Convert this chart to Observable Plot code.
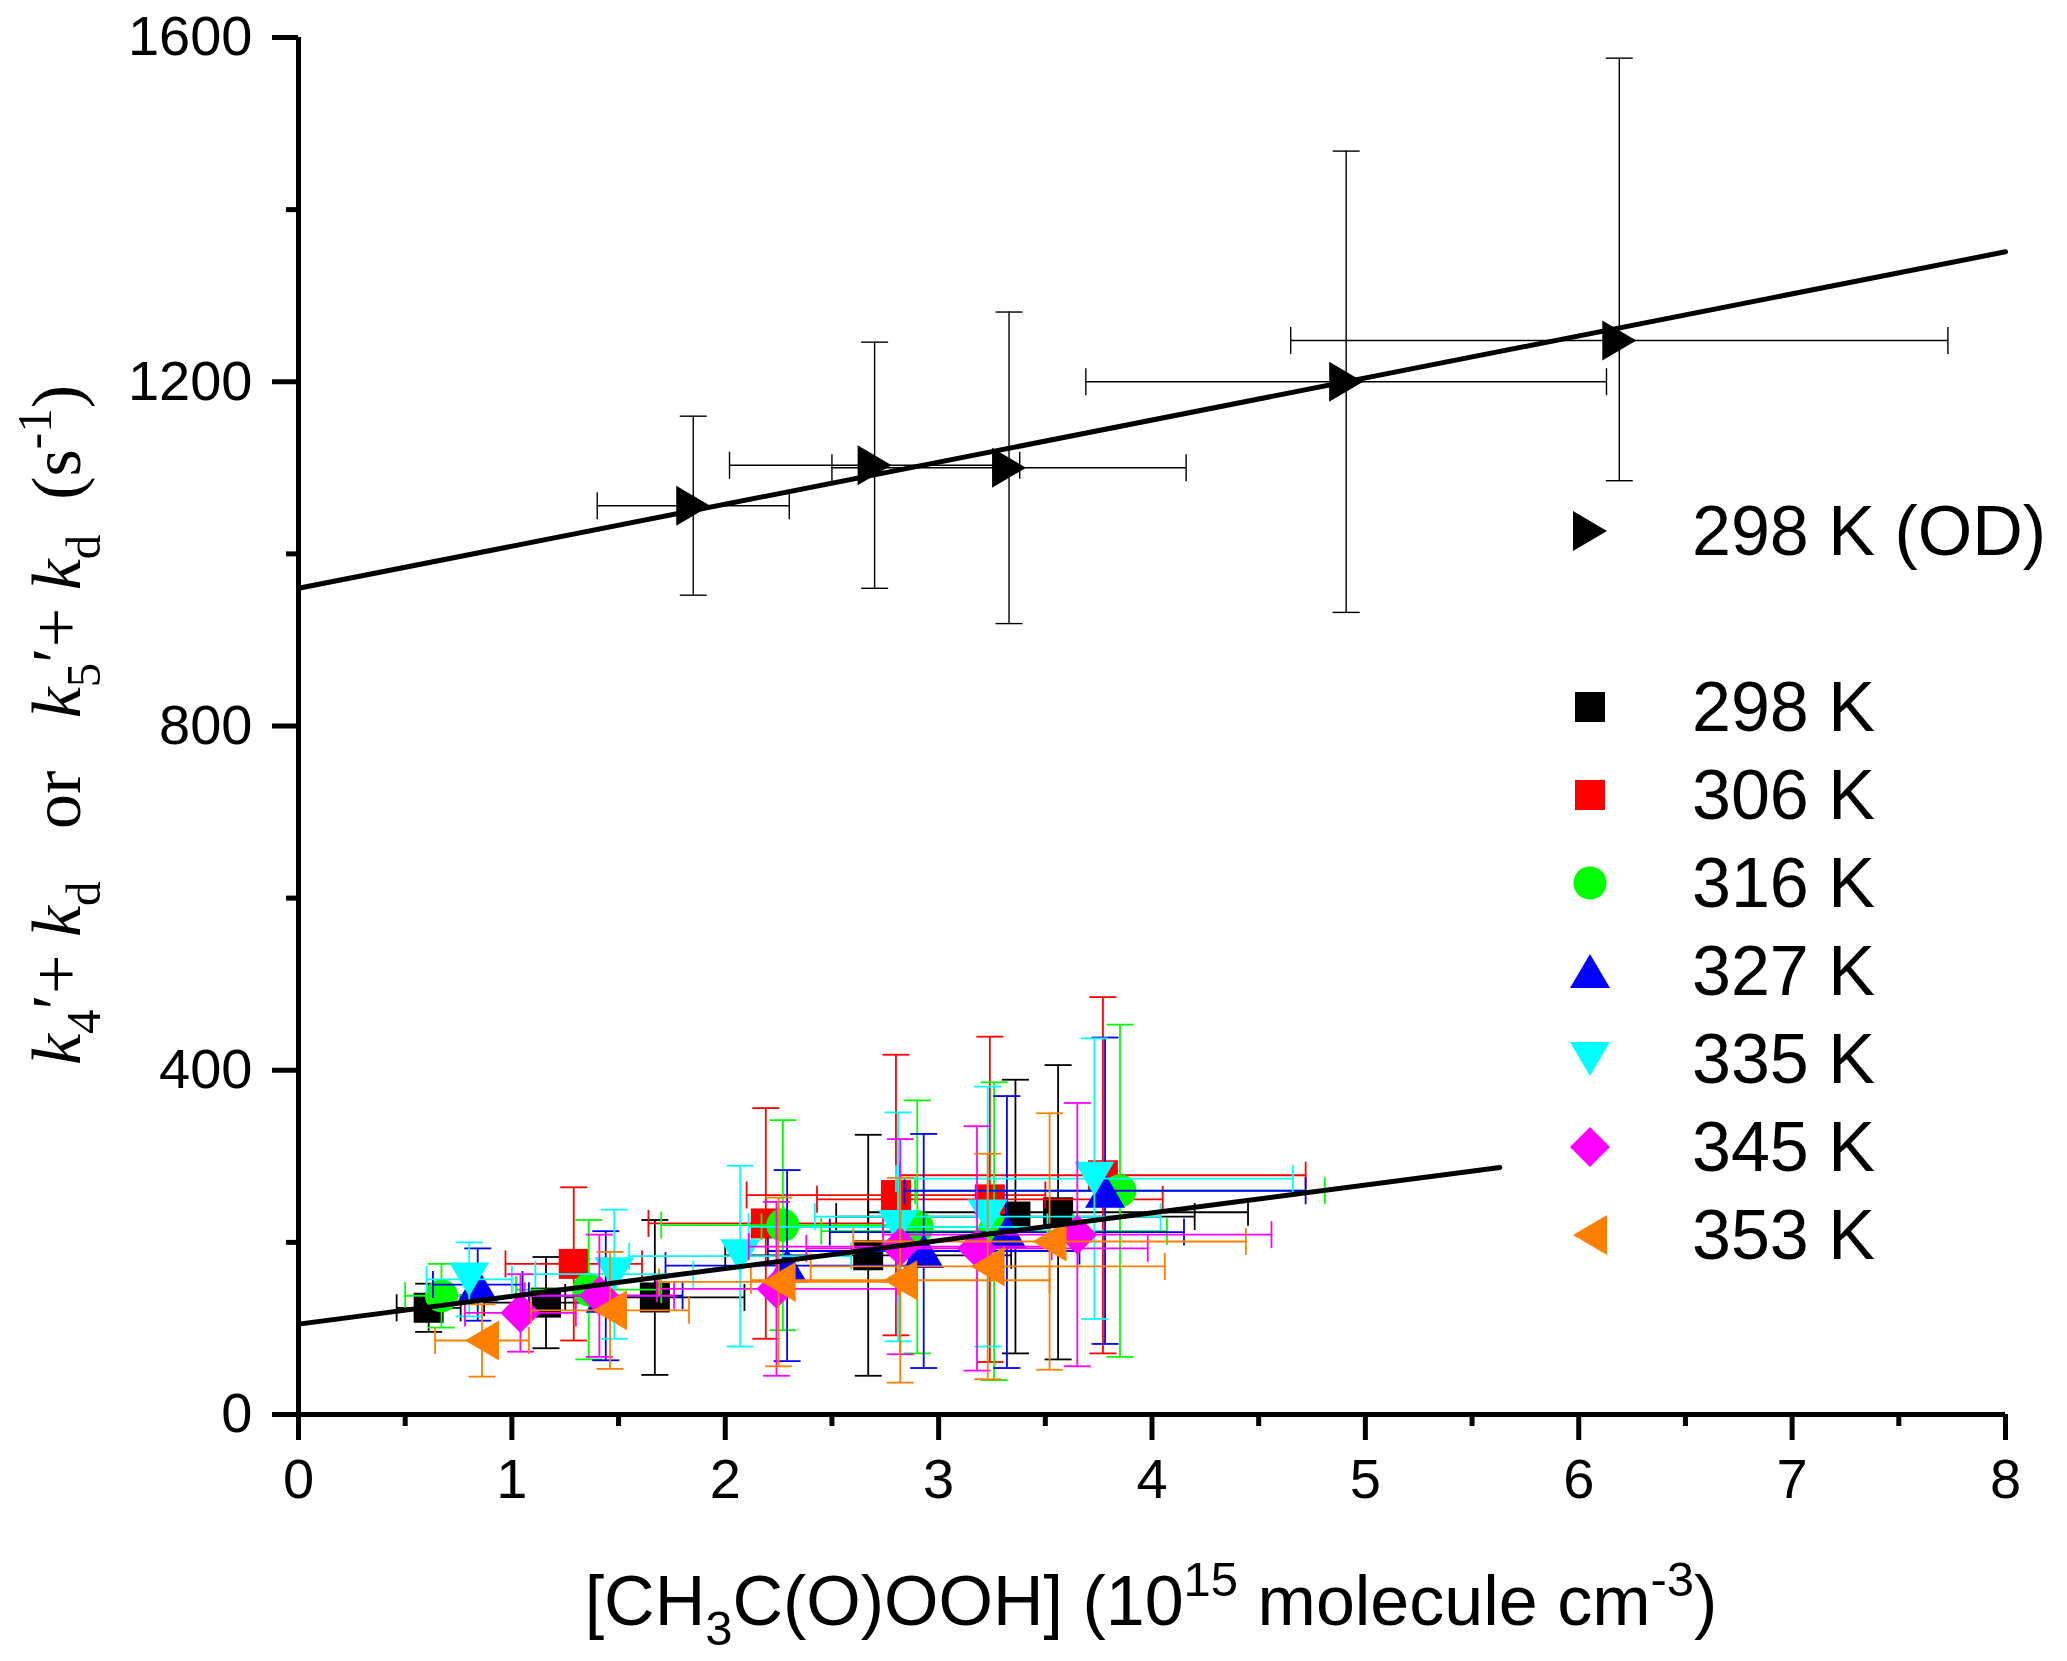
<!DOCTYPE html>
<html>
<head>
<meta charset="utf-8">
<script src="https://cdn.jsdelivr.net/npm/d3@7"></script>
<script src="https://cdn.jsdelivr.net/npm/@observablehq/plot@0.6"></script>
<style>
  body { margin: 0; background: #fff; }
  #chart { position: relative; width: 2067px; height: 1661px; }
  #legend { position: absolute; left: 1555px; top: 487px; font-family: "Liberation Sans", Arial, sans-serif; font-size: 70px; color: #000; }
  #legend .row { display: flex; align-items: center; height: 88px; white-space: pre; }
  #legend svg { width: 70px; height: 70px; overflow: visible; }
  #legend span { margin-left: 67px; }
</style>
</head>
<body>
<div id="chart"><div id="legend"></div></div>
<script>
  // series names / colours (legend order)
  const names = ['298 K (OD)', '298 K', '306 K', '316 K', '327 K', '335 K', '345 K', '353 K']
  const colors = ['#000000', '#000000', '#ff0000', '#00ff00', '#0000ff', '#00ffff', '#ff00ff', '#ff8000']

  // 298 K (OD)
  const xOD = [1.85, 2.70, 3.33, 4.91, 6.19]
  const yOD = [1056, 1103, 1100, 1200, 1248]
  const exOD = [0.45, 0.68, 0.83, 1.22, 1.54]
  const eyLoOD = [104, 143, 181, 268, 163]
  const eyHiOD = [104, 143, 181, 268, 328]

  // 298 K
  const x298 = [0.61, 1.16, 1.67, 2.67, 3.36, 3.56]
  const y298 = [124, 130, 136, 185, 230, 235]
  const ex298 = [0.15, 0.29, 0.42, 0.67, 0.84, 0.89]
  const ey298 = [28, 53, 90, 140, 159, 171]

  // 306 K
  const x306 = [1.29, 2.19, 2.80, 3.24, 3.77]
  const y306 = [175, 222, 255, 250, 278]
  const ex306 = [0.32, 0.55, 0.70, 0.81, 0.95]
  const ey306 = [89, 134, 163, 189, 207]

  // 316 K
  const x316 = [0.67, 1.36, 2.27, 2.90, 3.26, 3.85]
  const y316 = [138, 145, 220, 218, 213, 260]
  const ex316 = [0.17, 0.34, 0.57, 0.73, 0.81, 0.96]
  const ey316 = [37, 81, 122, 147, 173, 193]

  // 327 K
  const x327 = [0.84, 1.44, 2.29, 2.93, 3.32, 3.78]
  const y327 = [151, 138, 173, 190, 212, 260]
  const ex327 = [0.21, 0.36, 0.57, 0.73, 0.83, 0.94]
  const ey327 = [42, 75, 111, 136, 158, 178]

  // 335 K
  const x335 = [0.80, 1.48, 2.07, 2.81, 3.23, 3.73]
  const y335 = [157, 163, 184, 218, 230, 274]
  const ex335 = [0.20, 0.37, 0.52, 0.70, 0.81, 0.93]
  const ey335 = [43, 75, 105, 133, 151, 163]

  // 345 K
  const x345 = [1.04, 1.41, 2.24, 2.82, 3.18, 3.65]
  const y345 = [118, 138, 146, 195, 193, 209]
  const ex345 = [0.26, 0.35, 0.56, 0.71, 0.80, 0.91]
  const ey345 = [45, 71, 101, 125, 142, 153]

  // 353 K
  const x353 = [0.86, 1.46, 2.25, 2.82, 3.23, 3.52]
  const y353 = [86, 121, 154, 156, 172, 201]
  const ex353 = [0.22, 0.37, 0.56, 0.70, 0.83, 0.92]
  const ey353 = [42, 68, 98, 119, 131, 149]

  // linear fits
  const fitODx = [0, 8]
  const fitODy = [960, 1351]
  const fitx = [0, 5.63]
  const fity = [105, 287]

  // ticks
  const xTicks = [0, 1, 2, 3, 4, 5, 6, 7, 8]
  const xMinor = [0.5, 1.5, 2.5, 3.5, 4.5, 5.5, 6.5, 7.5]
  const yTicks = [0, 400, 800, 1200, 1600]
  const yMinor = [200, 600, 1000, 1400]

  // simbolos tipo Origin
  const poly = pts => ({
    draw(ctx, size) {
      const r = Math.sqrt(size / Math.PI)
      pts.forEach(([a, b], i) => i ? ctx.lineTo(a * r, b * r) : ctx.moveTo(a * r, b * r))
      ctx.closePath()
    }
  })
  const circle = { draw(ctx, size) { const r = Math.sqrt(size / Math.PI) * 0.83; ctx.moveTo(r, 0); ctx.arc(0, 0, r, 0, 2 * Math.PI) } }
  const symbols = [
    poly([[0.85, 0], [-0.85, -1], [-0.85, 1]]),            // right
    poly([[-0.75, -0.75], [0.75, -0.75], [0.75, 0.75], [-0.75, 0.75]]),
    poly([[-0.75, -0.75], [0.75, -0.75], [0.75, 0.75], [-0.75, 0.75]]),
    circle,
    poly([[0, -0.85], [1, 0.85], [-1, 0.85]]),              // up
    poly([[0, 0.85], [1, -0.85], [-1, -0.85]]),             // down
    poly([[0, -1], [1, 0], [0, 1], [-1, 0]]),               // diamond
    poly([[-0.85, 0], [0.85, -1], [0.85, 1]]),              // left
  ]
  const capH = { draw(ctx, size) { const r = Math.sqrt(size / Math.PI); ctx.moveTo(-r, 0); ctx.lineTo(r, 0) } }
  const capV = { draw(ctx, size) { const r = Math.sqrt(size / Math.PI); ctx.moveTo(0, -r); ctx.lineTo(0, r) } }

  const cols = [
    [xOD, yOD, exOD, eyLoOD, eyHiOD],
    [x298, y298, ex298, ey298, ey298],
    [x306, y306, ex306, ey306, ey306],
    [x316, y316, ex316, ey316, ey316],
    [x327, y327, ex327, ey327, ey327],
    [x335, y335, ex335, ey335, ey335],
    [x345, y345, ex345, ey345, ey345],
    [x353, y353, ex353, ey353, ey353],
  ]

  const marks = []
  cols.forEach(([xs, ys, exs, lo, hi], i) => {
    const d = xs.map((x, j) => ({ x, y: ys[j], xlo: x - exs[j], xhi: x + exs[j], ylo: ys[j] - lo[j], yhi: ys[j] + hi[j] }))
    const c = colors[i]
    const sw = i === 0 ? 1.4 : 1.8
    marks.push(
      Plot.ruleX(d, { x: 'x', y1: 'ylo', y2: 'yhi', stroke: c, strokeWidth: sw }),
      Plot.ruleY(d, { y: 'y', x1: 'xlo', x2: 'xhi', stroke: c, strokeWidth: sw }),
      Plot.dot(d, { x: 'x', y: 'ylo', symbol: capH, r: 13.5, fill: 'none', stroke: c, strokeWidth: sw }),
      Plot.dot(d, { x: 'x', y: 'yhi', symbol: capH, r: 13.5, fill: 'none', stroke: c, strokeWidth: sw }),
      Plot.dot(d, { x: 'xlo', y: 'y', symbol: capV, r: 13.5, fill: 'none', stroke: c, strokeWidth: sw }),
      Plot.dot(d, { x: 'xhi', y: 'y', symbol: capV, r: 13.5, fill: 'none', stroke: c, strokeWidth: sw }),
      Plot.dot(d, { x: 'x', y: 'y', symbol: symbols[i], r: 20, fill: c, stroke: 'none' }),
    )
  })

  const fitOD = fitODx.map((x, i) => ({ x, y: fitODy[i] }))
  const fit = fitx.map((x, i) => ({ x, y: fity[i] }))

  let chart = Plot.plot({
    width: 2067,
    height: 1661,
    marginLeft: 298,
    marginRight: 62,
    marginTop: 37,
    marginBottom: 247,
    style: { fontFamily: '"Liberation Sans", Arial, sans-serif', background: '#fff', color: '#000' },
    x: { domain: [0, 8] },
    y: { domain: [0, 1600] },
    marks: [
      ...marks,
      Plot.line(fitOD, { x: 'x', y: 'y', stroke: '#000', strokeWidth: 5 }),
      Plot.line(fit, { x: 'x', y: 'y', stroke: '#000', strokeWidth: 5 }),
      Plot.axisX({ ticks: xTicks, tickSize: 26, tickPadding: 18, strokeWidth: 5, fontSize: 56, tickFormat: d => String(d), label: null }),
      Plot.axisX({ ticks: xMinor, tickSize: 12, strokeWidth: 5, tickFormat: () => '', label: null }),
      Plot.axisY({ ticks: yTicks, tickSize: 26, tickPadding: 20, strokeWidth: 5, fontSize: 56, tickFormat: d => String(d), label: null }),
      Plot.axisY({ ticks: yMinor, tickSize: 12, strokeWidth: 5, tickFormat: () => '', label: null }),
      Plot.ruleX([0], { stroke: '#000', strokeWidth: 5 }),
      Plot.ruleY([0], { stroke: '#000', strokeWidth: 5 }),
    ],
  })

  // titulos de ejes con sub/superindices
  const svg = d3.select(chart)
  function richText(g, parts, size) {
    let shift = 0
    parts.forEach(p => {
      const t = g.append('tspan').text(p.t)
      let target = 0
      if (p.sub) target = size * 0.28
      if (p.sup) target = -size * 0.42
      if (target !== shift) { t.attr('dy', target - shift); shift = target }
      if (p.sub || p.sup) t.attr('font-size', size * 0.7)
      if (p.it) t.attr('font-style', 'italic')
    })
  }

  const xl = svg.append('text')
    .attr('x', 1151).attr('y', 1625)
    .attr('text-anchor', 'middle')
    .attr('font-family', '"Liberation Sans", Arial, sans-serif')
    .attr('font-size', 70)
    .style('white-space', 'pre')
  richText(xl, [
    { t: '[CH' }, { t: '3', sub: true }, { t: 'C(O)OOH] (10' }, { t: '15', sup: true },
    { t: ' molecule cm' }, { t: '-3', sup: true }, { t: ')' },
  ], 70)

  const yl = svg.append('text')
    .attr('transform', 'translate(80,725) rotate(-90)')
    .attr('text-anchor', 'middle')
    .attr('font-family', '"Liberation Serif", "Times New Roman", serif')
    .attr('font-size', 70)
    .style('white-space', 'pre')
  richText(yl, [
    { t: 'k', it: true }, { t: '4', sub: true }, { t: '′+ ' }, { t: 'k', it: true }, { t: 'd', sub: true },
    { t: '   or   ' },
    { t: 'k', it: true }, { t: '5', sub: true }, { t: '′+ ' }, { t: 'k', it: true }, { t: 'd', sub: true },
    { t: '  (s' }, { t: '-1', sup: true }, { t: ')' },
  ], 70)

  d3.select('#chart').insert(() => chart, '#legend')

  // leyenda
  const legendOrder = [0, null, 1, 2, 3, 4, 5, 6, 7]
  const legend = d3.select('#legend')
  legendOrder.forEach(i => {
    const row = legend.append('div').attr('class', 'row')
    if (i === null) return
    const p = d3.path()
    symbols[i].draw(p, Math.PI * 20 * 20)
    row.append('svg').attr('viewBox', '-35 -35 70 70')
      .append('path').attr('d', p.toString()).attr('fill', colors[i])
    row.append('span').text(names[i])
  })
</script>
</body>
</html>
